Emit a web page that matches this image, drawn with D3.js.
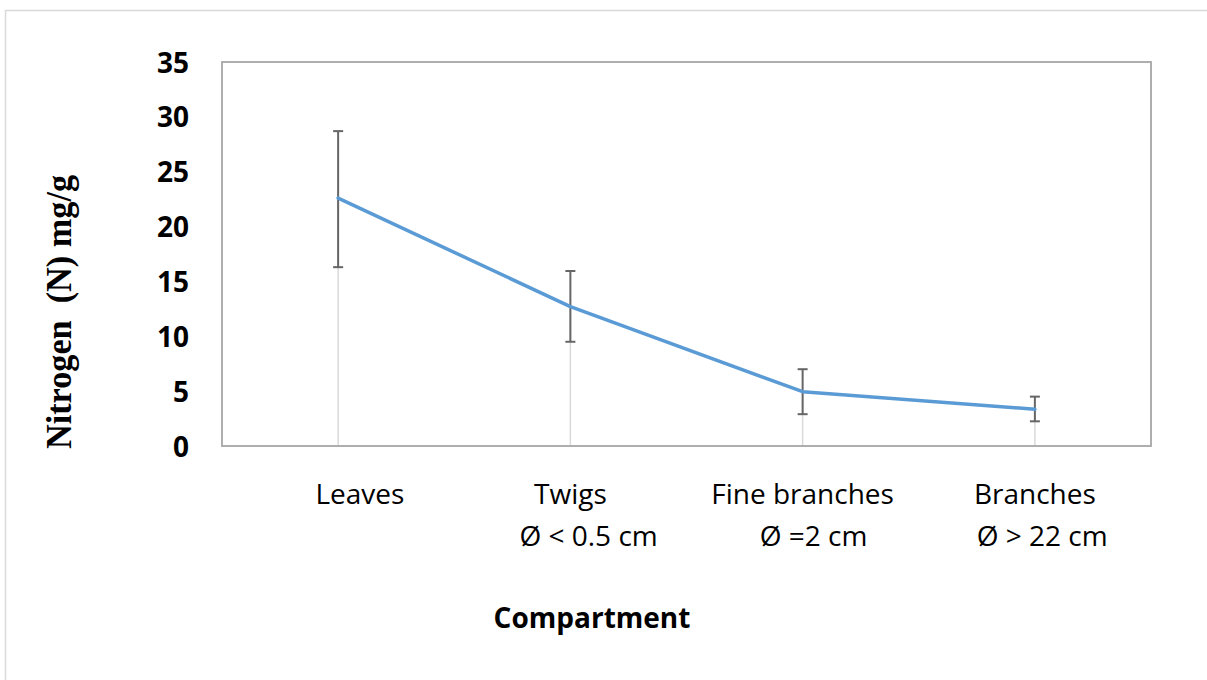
<!DOCTYPE html>
<html>
<head>
<meta charset="utf-8">
<script src="https://cdn.jsdelivr.net/npm/d3@7"></script>
<style>
  html, body { margin: 0; padding: 0; background: #fff; }
  svg { display: block; }
  text { white-space: pre; }
</style>
</head>
<body>
<svg id="chart" width="1207" height="680"></svg>
<script>
// ---- data ----
const categories = ["Leaves", "Twigs", "Fine branches", "Branches"];
// label lines as they appear under each category (leading spaces as in the original labels)
const categoryLine1 = ["      Leaves", "Twigs", "Fine branches", "Branches"];
const categoryLine2 = ["", "     Ø < 0.5 cm", "   Ø =2 cm", "  Ø > 22 cm"];
const nitrogen = [22.6, 12.7, 4.95, 3.35];
const errUpper = [28.7, 15.95, 7.0, 4.5];
const errLower = [16.3, 9.5, 2.9, 2.25];
const yTicks = [0, 5, 10, 15, 20, 25, 30, 35];
const yTitle = "Nitrogen  (N) mg/g";
const xTitle = "Compartment";

const svg = d3.select("#chart");
const plot = { left: 222, top: 62, right: 1151, bottom: 446 };

// outer frame
svg.append("rect")
  .attr("x", 5.5).attr("y", 10.5)
  .attr("width", 1300).attr("height", 1000)
  .attr("fill", "none").attr("stroke", "#d9d9d9").attr("stroke-width", 1.5);

const x = d3.scaleBand().domain(categories).range([plot.left, plot.right]).padding(0);
const y = d3.scaleLinear().domain([0, 35]).range([plot.bottom, plot.top]);
const cx = c => x(c) + x.bandwidth() / 2;

// plot border
svg.append("rect")
  .attr("x", plot.left).attr("y", plot.top)
  .attr("width", plot.right - plot.left).attr("height", plot.bottom - plot.top)
  .attr("fill", "none").attr("stroke", "#a6a6a6").attr("stroke-width", 1.8);

// drop lines
svg.append("g").selectAll("line").data(categories).join("line")
  .attr("x1", d => cx(d)).attr("x2", d => cx(d))
  .attr("y1", y(0) - 1).attr("y2", (d, i) => y(nitrogen[i]))
  .attr("stroke", "#d9d9d9").attr("stroke-width", 1.5);

// y axis labels
const yAxis = d3.axisLeft(y).tickValues(yTicks).tickSize(0).tickPadding(0);
const yg = svg.append("g").attr("transform", `translate(${plot.left - 33},0)`).call(yAxis);
yg.select(".domain").remove();
yg.selectAll("text")
  .attr("font-family", "'Open Sans', sans-serif")
  .attr("font-weight", "bold")
  .attr("font-size", 28)
  .attr("fill", "#000")
  .attr("dy", "0.36em");

// x axis labels
const xAxis = d3.axisBottom(x).tickSize(0).tickFormat(() => "");
const xg = svg.append("g").attr("transform", `translate(0,${plot.bottom})`).call(xAxis);
xg.select(".domain").remove();
xg.selectAll(".tick").each(function(d, i) {
  const t = d3.select(this);
  t.append("text")
    .attr("text-anchor", "middle").attr("y", 58)
    .attr("font-family", "'Open Sans', sans-serif").attr("font-size", 28)
    .attr("fill", "#000").text(categoryLine1[i]);
  if (categoryLine2[i]) {
    t.append("text")
      .attr("text-anchor", "middle").attr("y", 100)
      .attr("font-family", "'Open Sans', sans-serif").attr("font-size", 28)
      .attr("fill", "#000").text(categoryLine2[i]);
  }
});

// error bars
const eb = svg.append("g").attr("stroke", "#666").attr("stroke-width", 2);
categories.forEach((c, i) => {
  const xc = cx(c);
  eb.append("line").attr("x1", xc).attr("x2", xc).attr("y1", y(errUpper[i])).attr("y2", y(errLower[i]));
  eb.append("line").attr("x1", xc - 5).attr("x2", xc + 5).attr("y1", y(errUpper[i])).attr("y2", y(errUpper[i]));
  eb.append("line").attr("x1", xc - 5).attr("x2", xc + 5).attr("y1", y(errLower[i])).attr("y2", y(errLower[i]));
});

// line
const line = d3.line().x((d, i) => cx(categories[i])).y(d => y(d));
svg.append("path").datum(nitrogen)
  .attr("d", line).attr("fill", "none")
  .attr("stroke", "#5b9bd5").attr("stroke-width", 3.5)
  .attr("stroke-linejoin", "round").attr("stroke-linecap", "round");

// axis titles
svg.append("text")
  .attr("transform", `translate(71,312) rotate(-90)`)
  .attr("text-anchor", "middle")
  .attr("font-family", "'Liberation Serif', 'Times New Roman', serif")
  .attr("font-weight", "bold").attr("font-size", 35).attr("fill", "#000")
  .attr("textLength", 274).attr("lengthAdjust", "spacingAndGlyphs")
  .text(yTitle);

svg.append("text")
  .attr("x", 592).attr("y", 628)
  .attr("text-anchor", "middle")
  .attr("font-family", "'Open Sans', sans-serif")
  .attr("font-weight", "bold").attr("font-size", 28).attr("fill", "#000")
  .text(xTitle);
</script>
</body>
</html>
